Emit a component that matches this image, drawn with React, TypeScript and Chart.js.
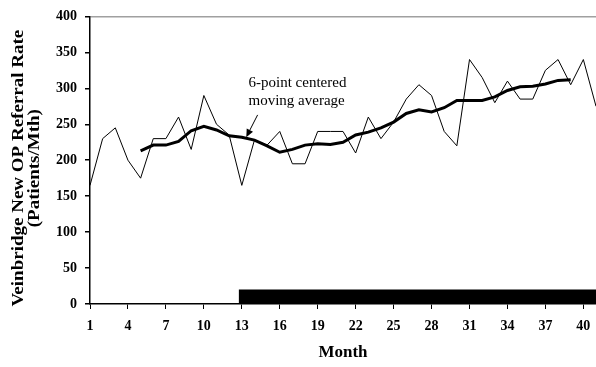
import React, { useEffect, useRef } from "react";
import { Chart, registerables } from "chart.js";

Chart.register(...registerables);

// ---- data ----
const months = [
  1, 2, 3, 4, 5, 6, 7, 8, 9, 10, 11, 12, 13, 14, 15, 16, 17, 18, 19, 20, 21,
  22, 23, 24, 25, 26, 27, 28, 29, 30, 31, 32, 33, 34, 35, 36, 37, 38, 39, 40, 41,
];
const referrals = [
  165, 230, 245, 200, 175, 230, 230, 260, 215, 290, 250, 235, 165, 228, 221,
  240, 195, 195, 240, 240, 240, 210, 260, 230, 253, 285, 305, 290, 240, 220,
  340, 315, 280, 310, 285, 285, 325, 340, 305, 340, 275,
];
const maMonths = [
  5, 6, 7, 8, 9, 10, 11, 12, 13, 14, 15, 16, 17, 18, 19, 20, 21, 22, 23, 24,
  25, 26, 27, 28, 29, 30, 31, 32, 33, 34, 35, 36, 37, 38, 39,
];
const movingAverage = [
  213, 221, 221, 226, 241, 247, 242, 234, 232, 228, 220, 211, 215, 221, 223,
  222, 225, 235, 239, 245, 253, 265, 270, 267, 273, 283, 283, 283, 288, 297,
  302, 303, 306, 311, 312,
];
const periodStart = 12.75;
const periodEnd = 41;
const periodHeight = 20;

const xTickMonths = [1, 4, 7, 10, 13, 16, 19, 22, 25, 28, 31, 34, 37, 40];
const yMin = 0;
const yMax = 400;
const yStep = 50;

const xTitle = "Month";
const yTitle = ["Veinbridge New OP Referral Rate", "(Patients/Mth)"];

const annotationLines = ["6-point centered", "moving average"];
const annotationAt = { month: 13.53, value: 307 };
const arrowFrom = { month: 14.25, value: 263 };
const arrowTo = { month: 13.35, value: 232 };

const SERIF = '"Liberation Serif", "Times New Roman", serif';

const annotationPlugin = {
  id: "maAnnotation",
  afterDatasetsDraw(chart: any) {
    const { ctx, scales } = chart;
    const xs = scales.x;
    const ys = scales.y;
    ctx.save();
    ctx.fillStyle = "#000";
    ctx.strokeStyle = "#000";
    ctx.font = `15px ${SERIF}`;
    ctx.textAlign = "left";
    ctx.textBaseline = "middle";
    const tx = xs.getPixelForValue(annotationAt.month);
    const ty = ys.getPixelForValue(annotationAt.value);
    annotationLines.forEach((line, i) => ctx.fillText(line, tx, ty + i * 18));
    const x1 = xs.getPixelForValue(arrowFrom.month);
    const y1 = ys.getPixelForValue(arrowFrom.value);
    const x2 = xs.getPixelForValue(arrowTo.month);
    const y2 = ys.getPixelForValue(arrowTo.value);
    const ang = Math.atan2(y2 - y1, x2 - x1);
    const headLen = 8;
    const headW = 3.5;
    const bx = x2 - headLen * Math.cos(ang);
    const by = y2 - headLen * Math.sin(ang);
    ctx.lineWidth = 1;
    ctx.beginPath();
    ctx.moveTo(x1, y1);
    ctx.lineTo(bx, by);
    ctx.stroke();
    ctx.beginPath();
    ctx.moveTo(x2, y2);
    ctx.lineTo(bx + headW * Math.sin(ang), by - headW * Math.cos(ang));
    ctx.lineTo(bx - headW * Math.sin(ang), by + headW * Math.cos(ang));
    ctx.closePath();
    ctx.fill();
    ctx.restore();
  },
};

// Y-axis title, drawn as real rotated text (slightly condensed like the reference)
const yTitlePlugin = {
  id: "yTitle",
  afterDraw(chart: any) {
    const { ctx, chartArea } = chart;
    const cy = (chartArea.top + chartArea.bottom) / 2 + 8;
    const lineCenters = [19, 35];
    ctx.save();
    ctx.fillStyle = "#000";
    ctx.font = `bold 19px ${SERIF}`;
    ctx.textAlign = "center";
    ctx.textBaseline = "middle";
    yTitle.forEach((line, i) => {
      ctx.save();
      ctx.translate(lineCenters[i], cy);
      ctx.rotate(-Math.PI / 2);
      ctx.scale(1, 0.84);
      ctx.fillText(line, 0, 0);
      ctx.restore();
    });
    ctx.restore();
  },
};

export default function App() {
  const canvasRef = useRef<HTMLCanvasElement | null>(null);

  useEffect(() => {
    const canvas = canvasRef.current;
    if (!canvas) return;
    const chart = new Chart(canvas, {
      type: "line",
      data: {
        datasets: [
          {
            label: "Period",
            data: [
              { x: periodStart, y: periodHeight },
              { x: periodEnd, y: periodHeight },
            ],
            borderWidth: 0,
            borderColor: "#000",
            backgroundColor: "#000",
            fill: "origin",
            pointRadius: 0,
            order: 3,
          },
          {
            label: "Referrals",
            data: months.map((m, i) => ({ x: m, y: referrals[i] })),
            borderColor: "#000",
            borderWidth: 1,
            pointRadius: 0,
            tension: 0,
            fill: false,
            order: 2,
          },
          {
            label: "6-point centered moving average",
            data: maMonths.map((m, i) => ({ x: m, y: movingAverage[i] })),
            borderColor: "#000",
            borderWidth: 3,
            pointRadius: 0,
            tension: 0,
            fill: false,
            order: 1,
          },
        ],
      },
      options: {
        responsive: false,
        animation: false,
        devicePixelRatio: 1,
        layout: { padding: { top: 15, right: 0, bottom: 0, left: 0 } },
        plugins: {
          legend: { display: false },
          tooltip: { enabled: false },
        },
        scales: {
          x: {
            type: "linear",
            min: months[0],
            max: months[months.length - 1],
            afterBuildTicks: (scale: any) => {
              scale.ticks = xTickMonths.map((v) => ({ value: v }));
            },
            afterFit: (scale: any) => {
              scale.height = 63;
              scale.paddingRight = 0;
              scale.paddingLeft = 0;
            },
            grid: {
              drawOnChartArea: false,
              drawTicks: true,
              tickLength: 5,
              tickColor: "#000",
            },
            border: { display: true, color: "#000", width: 1.5 },
            ticks: {
              autoSkip: false,
              maxRotation: 0,
              padding: 9,
              color: "#000",
              font: { family: SERIF, size: 14, weight: "bold" },
              callback: (v: any) => String(v),
            },
            title: {
              display: true,
              text: xTitle,
              color: "#000",
              font: { family: SERIF, size: 17, weight: "bold" },
              padding: { top: 0, bottom: 4 },
            },
          },
          y: {
            type: "linear",
            min: yMin,
            max: yMax,
            afterFit: (scale: any) => {
              scale.width = 90;
            },
            grid: {
              drawOnChartArea: true,
              color: (c: any) => (c.tick && c.tick.value === yMax ? "#a0a0a0" : "rgba(0,0,0,0)"),
              lineWidth: 1.5,
              drawTicks: true,
              tickLength: 5,
              tickColor: "#000",
            },
            border: { display: true, color: "#000", width: 1.5 },
            ticks: {
              stepSize: yStep,
              padding: 8,
              color: "#000",
              font: { family: SERIF, size: 14, weight: "bold" },
            },
            title: { display: false },
          },
        },
      },
      plugins: [annotationPlugin, yTitlePlugin],
    });
    return () => chart.destroy();
  }, []);

  return (
    <div style={{ position: "fixed", left: 0, top: 0, width: 596, height: 367, background: "#fff" }}>
      <canvas ref={canvasRef} width={596} height={367} style={{ display: "block" }} />
    </div>
  );
}
